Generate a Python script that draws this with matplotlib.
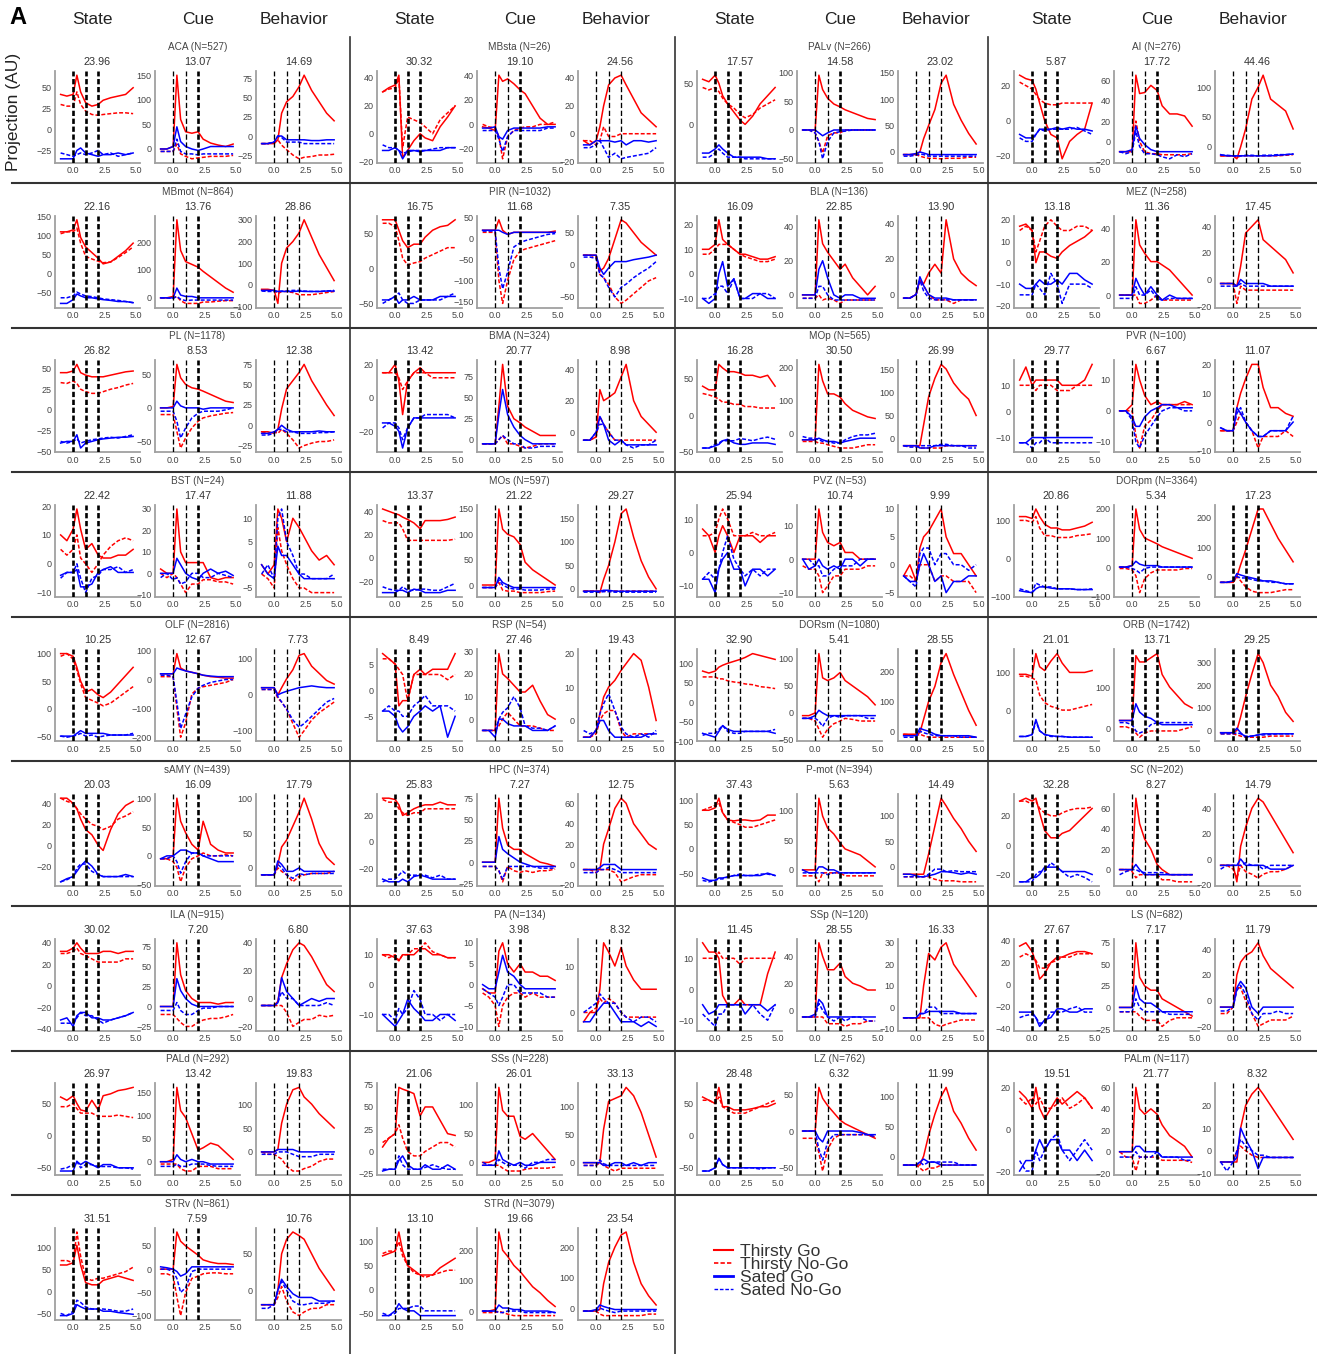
import matplotlib
matplotlib.use("Agg")
import matplotlib.pyplot as plt
from matplotlib.lines import Line2D
from matplotlib.ticker import MultipleLocator, FixedLocator

plt.rcParams['font.family'] = ['Liberation Sans', 'DejaVu Sans']

# time points (s) shared by every trace
T = [-1.0, -0.5, 0.0, 0.3, 0.6, 1.0, 1.5, 2.0, 2.4, 3.0, 3.6, 4.2, 4.8]

# each region: [State, Cue, Behavior]; each panel: [Thirsty Go, Thirsty No-Go, Sated Go, Sated No-Go]
R_ACA = [
    [[42, 40, 42, 65, 45, 32, 28, 30, 35, 38, 40, 42, 50], [30, 28, 28, 45, 30, 22, 18, 17, 18, 19, 20, 20, 19],
     [-35, -35, -35, -25, -22, -28, -30, -32, -30, -30, -28, -30, -28], [-28, -30, -32, -30, -28, -30, -28, -25, -30, -28, -32, -30, -28]],
    [[0, 0, 5, 150, 60, 35, 32, 35, 20, 12, 8, 5, 10], [-5, -5, -5, 10, -10, -15, -20, -18, -17, -15, -15, -15, -13],
     [0, 0, 5, 45, 15, 5, 0, -3, 0, 5, 5, 5, 5], [-5, -5, -5, 20, -5, -10, -10, -12, -10, -10, -10, -10, -10]],
    [[-10, -10, -10, -5, 30, 45, 52, 65, 80, 60, 45, 30, 20], [-10, -10, -8, -5, -12, -18, -25, -30, -28, -27, -25, -25, -24],
     [-10, -10, -8, 0, 0, -5, -5, -5, -5, -6, -6, -5, -5], [-10, -10, -8, 0, -2, -8, -8, -8, -10, -10, -10, -10, -10]],
]
R_MBmot = [
    [[110, 110, 115, 142, 95, 70, 55, 40, 25, 30, 45, 60, 80], [105, 110, 110, 120, 80, 45, 38, 32, 28, 30, 42, 55, 70],
     [-80, -80, -70, -55, -60, -65, -65, -68, -70, -72, -75, -75, -78], [-65, -65, -60, -50, -55, -60, -62, -65, -68, -70, -72, -75, -78]],
    [[0, 0, 5, 280, 170, 130, 120, 110, 95, 75, 55, 35, 20], [0, 0, 0, 5, -10, -20, -20, -20, -15, -15, -12, -10, -10],
     [0, 0, 0, 35, 10, 5, 5, 0, 0, 0, 0, 0, 0], [0, 0, -2, 5, -5, -10, -8, -8, -8, -8, -8, -8, -8]],
    [[-20, -20, -25, -85, 100, 170, 200, 240, 300, 220, 140, 80, 20], [-25, -25, -25, -40, -30, -30, -35, -45, -45, -45, -40, -35, -30],
     [-25, -25, -25, -30, -30, -30, -30, -28, -30, -30, -30, -28, -28], [-28, -30, -30, -30, -28, -28, -25, -25, -28, -30, -30, -28, -25]],
]
R_PL = [
    [[45, 45, 47, 55, 45, 42, 40, 40, 40, 42, 44, 46, 47], [33, 32, 35, 32, 25, 22, 20, 20, 22, 25, 27, 30, 32],
     [-40, -38, -38, -30, -46, -40, -38, -36, -35, -34, -33, -33, -32], [-38, -40, -38, -35, -40, -38, -36, -35, -34, -33, -34, -32, -30]],
    [[0, 0, 2, 65, 45, 35, 30, 28, 25, 20, 15, 10, 8], [-10, -10, -10, -35, -60, -45, -30, -20, -15, -12, -10, -8, -7],
     [0, 0, 0, 10, 3, 0, 0, 0, -2, 0, 0, 0, 0], [-5, -5, -5, -20, -45, -30, -15, -8, -5, -5, -5, -3, 0]],
    [[-8, -8, -10, -5, 20, 45, 55, 65, 75, 55, 40, 25, 12], [-8, -10, -8, -10, -5, -10, -18, -28, -25, -22, -20, -20, -18],
     [-10, -10, -8, -5, 0, -5, -8, -8, -8, -8, -7, -8, -8], [-12, -12, -10, -5, -5, -8, -8, -10, -10, -10, -9, -9, -8]],
]
R_BST = [
    [[10, 8, 12, 19, 12, 5, 7, 3, 2, 2, 3, 3, 5], [5, 3, 5, 10, 2, 0, -3, 0, 3, 6, 8, 9, 8],
     [-4, -3, -3, -2, -8, -8, -7, -3, -2, -1, -3, -3, -3], [-5, -3, -3, 0, -5, -10, -5, -4, -2, -2, -1, -3, -2]],
    [[2, 0, 0, 30, 10, 5, 5, 5, 5, -2, -3, -2, -2], [0, -2, 0, -2, -5, -9, -5, -5, -3, -3, -4, -4, -5],
     [0, 0, 0, 7, 4, 0, -2, -3, 0, 2, 0, 1, -1], [-2, 0, -3, -2, -5, -4, 0, 0, -2, -2, 0, -1, -2]],
    [[0, -2, 0, 12, 10, 5, 10, 8, 6, 3, 1, 2, 0], [-2, -3, -5, 8, 3, 0, -3, -5, -5, -6, -6, -6, -6],
     [0, -2, -3, 4, 2, 2, 0, -2, -3, -3, -3, -3, -3], [-2, 0, -3, 10, 12, 5, 2, -2, -2, -3, -3, -3, -2]],
]
R_OLF = [
    [[100, 100, 95, 75, 50, 30, 35, 25, 20, 30, 45, 60, 75], [95, 100, 90, 70, 45, 20, 15, 10, 5, 10, 20, 30, 40],
     [-50, -50, -50, -45, -40, -45, -45, -45, -45, -48, -48, -48, -48], [-50, -52, -50, -48, -45, -50, -48, -52, -50, -48, -48, -48, -45]],
    [[20, 20, 20, 90, 40, 30, 25, 20, 15, 10, 8, 5, 5], [10, 10, 10, -100, -200, -150, -50, -30, -25, -20, -15, -10, 0],
     [20, 20, 20, 40, 35, 30, 25, 20, 15, 12, 10, 10, 10], [15, 15, 10, -80, -170, -120, -60, -30, -20, -10, -5, 0, 0]],
    [[20, 20, 20, 0, 20, 45, 70, 110, 115, 80, 60, 40, 30], [15, 15, 15, -10, -20, -40, -80, -118, -100, -70, -50, -35, -20],
     [20, 20, 20, 0, 5, 10, 15, 20, 22, 25, 22, 20, 20], [15, 15, 15, -5, -20, -40, -70, -90, -80, -60, -40, -20, -10]],
]
R_sAMY = [
    [[45, 45, 40, 35, 25, 15, 10, 0, -5, 15, 30, 38, 42], [45, 42, 40, 35, 30, 25, 20, 18, 15, 18, 25, 28, 32],
     [-35, -32, -30, -25, -20, -15, -20, -28, -30, -30, -30, -28, -30], [-35, -33, -30, -22, -18, -18, -25, -28, -30, -30, -30, -30, -30]],
    [[-5, -5, 0, 100, 60, 40, 20, 10, 60, 20, 10, 5, 5], [-5, -5, -10, -20, -45, -20, -5, 0, 5, 0, 0, 2, 0],
     [-5, 0, 0, 5, 10, 10, 5, 5, 0, -5, -10, -10, -10], [-5, -5, 0, -10, -30, -10, 5, 5, 0, 0, 0, 0, 0]],
    [[-10, -10, -10, 5, 30, 40, 60, 80, 100, 70, 35, 15, 5], [-10, -10, -10, 0, -5, -10, -20, -12, -10, -8, -8, -8, -5],
     [-10, -10, -10, 10, 5, -5, -5, 0, -5, -5, -5, -5, -5], [-10, -10, -10, 5, 0, -10, -15, -8, -10, -8, -8, -8, -8]],
]
R_ILA = [
    [[32, 32, 35, 40, 35, 30, 30, 30, 32, 32, 30, 32, 32], [30, 30, 32, 35, 30, 28, 25, 22, 22, 22, 22, 25, 25],
     [-32, -30, -38, -28, -25, -25, -30, -30, -32, -32, -30, -28, -25], [-35, -35, -35, -30, -25, -28, -28, -32, -35, -32, -30, -28, -25]],
    [[0, 0, 0, 80, 40, 20, 10, 5, 5, 5, 3, 5, 5], [-10, -10, -10, -15, -20, -25, -25, -20, -17, -15, -15, -13, -10],
     [0, 0, 0, 35, 20, 10, 3, 0, 0, 0, 0, 0, 0], [-5, -5, -5, 5, -5, -10, -10, -5, -2, -2, 0, 0, 0]],
    [[-5, -5, -5, -2, 15, 25, 35, 40, 38, 30, 20, 10, 5], [-5, -5, -5, -5, -5, -10, -20, -17, -15, -15, -12, -13, -12],
     [-5, -5, -5, -3, 15, 5, 0, -5, -3, 0, -2, 0, 0], [-5, -5, -5, -3, 5, 0, 0, -5, -5, -5, -5, -3, -5]],
]
R_PALd = [
    [[60, 55, 62, 50, 40, 38, 55, 40, 62, 65, 70, 72, 75], [45, 45, 50, 42, 35, 35, 35, 30, 30, 30, 32, 30, 28],
     [-55, -55, -55, -40, -45, -40, -45, -50, -45, -45, -50, -50, -50], [-52, -50, -45, -40, -50, -45, -45, -48, -48, -48, -50, -50, -52]],
    [[0, 0, 5, 160, 110, 95, 60, 25, 30, 40, 35, 20, 5], [-5, -5, -5, -5, -15, -20, -20, -10, -10, -10, -15, -15, -15],
     [0, 0, 0, 15, 5, 0, 5, 0, 0, -5, -5, -5, -5], [-10, -10, -10, -5, -10, -10, -5, -5, -5, -8, -10, -10, -10]],
    [[0, 0, 0, 5, 60, 100, 130, 135, 115, 100, 80, 65, 50], [0, -5, -5, -10, -15, -30, -40, -40, -35, -30, -20, -15, -15],
     [0, 0, 0, 5, 5, 5, 5, 0, 0, 0, 0, 0, 0], [-5, -5, -5, 0, 0, 0, -5, -10, -10, -10, -5, -5, -5]],
]
R_STRv = [
    [[60, 60, 65, 105, 60, 20, 15, 15, 25, 30, 35, 30, 25], [70, 70, 65, 135, 80, 30, 25, 30, 30, 35, 40, 45, 55],
     [-55, -55, -50, -30, -35, -40, -40, -40, -45, -45, -48, -50, -52], [-50, -55, -45, -20, -25, -35, -40, -40, -40, -42, -45, -45, -40]],
    [[0, 0, 0, 80, 60, 50, 40, 30, 20, 15, 12, 12, 10], [-10, -10, -15, -60, -100, -50, -20, -15, -10, -8, -8, -10, -10],
     [5, 3, 0, -5, -15, -10, 5, 5, 5, 5, 5, 5, 5], [0, 0, -5, -20, -50, -40, -5, 0, 0, 0, 0, 0, 0]],
    [[-20, -20, -20, 0, 50, 70, 80, 75, 70, 50, 30, 15, 0], [-20, -20, -20, -10, 5, -15, -30, -35, -30, -25, -25, -20, -20],
     [-20, -20, -20, 0, 15, 5, -5, -10, -10, -10, -15, -15, -15], [-25, -25, -20, 0, 12, 0, -15, -20, -20, -18, -18, -18, -15]],
]
R_MBsta = [
    [[30, 33, 35, 42, -17, -12, -5, 0, -3, -5, 5, 12, 20], [30, 32, 33, 40, -10, 12, 10, 8, 5, 0, 10, 15, 20],
     [-12, -12, -10, -12, -18, -12, -12, -13, -12, -12, -12, -10, -10], [-8, -10, -10, -12, -14, -13, -12, -12, -12, -11, -10, -10, -10]],
    [[-2, -3, -5, 40, 35, 37, 33, 28, 25, 15, 5, 0, 0], [0, -2, -3, -10, -28, -10, -5, -3, -2, -2, 0, 0, 2],
     [-3, -3, -2, -10, -12, -5, -3, -3, -3, -3, -3, -2, -2], [-5, -5, -5, -12, -22, -10, -5, -5, -5, -5, -5, -3, -3]],
    [[-5, -8, -5, 5, 20, 35, 40, 42, 35, 25, 15, 10, 5], [-5, -5, -8, -5, 5, -2, -2, 0, 0, 0, 0, 0, 0],
     [-8, -8, -5, -5, -5, -5, -6, -5, -8, -5, -5, -6, -5], [-10, -10, -8, -5, -10, -17, -14, -18, -17, -16, -15, -14, -10]],
]
R_PIR = [
    [[70, 70, 70, 55, 40, 30, 35, 35, 45, 55, 60, 62, 70], [65, 65, 60, 40, 15, 5, 8, 10, 15, 20, 25, 30, 30],
     [-45, -45, -40, -50, -45, -45, -40, -45, -45, -45, -40, -40, -40], [-50, -45, -40, -35, -45, -50, -50, -45, -45, -45, -45, -40, -35]],
    [[20, 20, 20, 45, 20, 10, 15, 15, 15, 15, 15, 15, 18], [15, 15, 15, -100, -155, -100, -50, -30, -25, -20, -15, -10, -5],
     [20, 20, 20, 20, 15, 10, 15, 15, 15, 15, 15, 15, 15], [18, 18, 18, -70, -120, -80, -20, -10, -5, 0, 5, 10, 12]],
    [[15, 15, 15, -10, -5, 10, 40, 70, 65, 50, 35, 25, 15], [15, 15, 12, -15, -20, -30, -50, -60, -55, -45, -35, -25, -20],
     [15, 15, 15, -5, -15, -5, 5, 5, 5, 8, 10, 12, 15], [12, 12, 10, -15, -20, -35, -50, -35, -30, -20, -12, -5, 5]],
]
R_BMA = [
    [[15, 15, 20, 10, -10, 10, 15, 18, 15, 15, 15, 15, 15], [15, 15, 15, 12, 5, 10, 15, 15, 15, 12, 12, 12, 12],
     [-15, -15, -17, -20, -30, -18, -12, -12, -12, -12, -12, -12, -12], [-18, -15, -15, -18, -25, -18, -12, -12, -10, -10, -10, -10, -12]],
    [[-5, -5, -5, 40, 90, 40, 25, 20, 15, 10, 5, 5, 5], [-5, -5, -5, 0, 5, -5, -5, -8, -10, -8, -5, -5, -5],
     [-5, -5, -5, 30, 60, 30, 15, 5, 0, -5, -5, -5, -5], [-5, -5, -5, 0, 5, 0, -5, -5, -10, -10, -8, -8, -8]],
    [[-5, -5, -3, 27, 20, 22, 25, 35, 43, 20, 10, 5, 0], [-5, -5, -3, 10, 5, 0, -5, -5, -5, -5, -5, -5, -5],
     [-5, -5, 0, 10, 5, -5, -8, -5, -8, -8, -8, -8, -8], [-5, -5, 0, 5, 5, 0, -5, -5, -8, -10, -8, -8, -5]],
]
R_MOs = [
    [[42, 40, 38, 37, 35, 33, 30, 25, 32, 32, 32, 33, 35], [32, 30, 30, 30, 25, 15, 15, 15, 15, 15, 15, 15, 16],
     [-30, -30, -30, -28, -28, -30, -27, -28, -30, -30, -30, -28, -28], [-25, -27, -28, -28, -25, -28, -28, -27, -27, -28, -28, -25, -22]],
    [[0, 0, 0, 150, 110, 100, 95, 80, 45, 30, 20, 10, 0], [-5, -5, -5, 5, -10, -12, -12, -15, -15, -15, -15, -13, -12],
     [-5, -5, -5, 15, 5, 0, -5, -5, -5, -5, -5, -5, -5], [-5, -5, -5, 10, 0, -5, -8, -8, -10, -10, -10, -8, -8]],
    [[-5, -5, -5, -8, 20, 50, 100, 160, 170, 110, 60, 25, 0], [-5, -5, -5, -5, -5, -5, -5, -5, -5, -5, -5, -5, -5],
     [-5, -5, -5, -5, -3, -3, -5, -5, -5, -5, -5, -5, -5], [-7, -7, -7, -7, -6, -6, -7, -7, -7, -7, -7, -7, -7]],
]
R_RSP = [
    [[7, 6, 5, -3, -2, -2, 3, 4, 3, 4, 4, 4, 7], [6, 6, 5, 4, 3, -2, 3, 3, 3, 3, 3, 2, 3],
     [-4, -4, -5, -7, -8, -7, -5, -4, -3, -4, -3, -9, -5], [-4, -3, -4, -4, -5, -5, -3, -2, -1, -3, -3, -3, -4]],
    [[-5, -5, -5, 29, 20, 18, 15, 12, 12, 15, 8, 2, 0], [-5, -5, -5, -3, 0, 3, 0, -3, -3, -3, -4, -5, -5],
     [-5, -5, -8, 0, 0, -2, -3, -3, -3, -5, -5, -5, -3], [-5, -5, -5, 0, 3, 5, 10, 5, -3, -4, -4, -5, -3]],
    [[-5, -5, -3, 2, 7, 10, 12, 15, 17, 20, 18, 10, 0], [-5, -5, -4, 0, 2, 3, 3, -3, -5, -4, -4, -4, -4],
     [-5, -5, -3, 0, 0, -3, -5, -5, -5, -5, -5, -4, -4], [-3, -4, -3, 2, 5, 8, 3, -2, -4, -5, -4, -5, -3]],
]
R_HPC = [
    [[33, 33, 32, 28, 20, 22, 25, 27, 28, 28, 30, 28, 28], [32, 30, 30, 25, 22, 20, 22, 22, 25, 25, 25, 25, 25],
     [-28, -30, -30, -30, -28, -30, -26, -25, -26, -28, -28, -28, -28], [-30, -28, -28, -25, -22, -25, -25, -25, -25, -27, -25, -28, -28]],
    [[0, 0, 0, 75, 40, 20, 15, 15, 10, 5, 0, -2, -5], [-5, -5, -5, -10, -23, -5, -10, -12, -10, -12, -10, -10, -8],
     [0, 0, 0, 30, 15, 10, 5, 0, -2, -5, -5, -5, -5], [-5, -5, -5, -10, -20, -5, -5, -5, -5, -5, -7, -7, -7]],
    [[-5, -5, -5, -5, 20, 35, 55, 65, 60, 40, 30, 20, 15], [-5, -5, -8, -5, -5, -5, -8, -17, -15, -12, -10, -10, -10],
     [-5, -5, -5, -3, 0, 0, 0, -5, -5, -5, -5, -5, -5], [-8, -8, -8, -5, -5, -3, -5, -8, -8, -8, -8, -8, -8]],
]
R_PA = [
    [[10, 10, 9, 8, 10, 10, 10, 12, 12, 10, 10, 9, 9], [10, 9, 10, 8, 10, 10, 12, 12, 14, 11, 10, 9, 9],
     [-10, -12, -14, -12, -10, -5, -8, -10, -12, -12, -10, -10, -12], [-10, -10, -12, -8, -10, -8, -2, -5, -10, -10, -12, -10, -10]],
    [[-1, -2, -2, 8, 10, 5, 3, 5, 3, 3, 2, 2, 1], [-2, -3, -5, -10, -5, -3, -2, -2, -3, -2, -3, -3, -3],
     [0, -1, -1, 3, 7, 3, 2, 0, -1, -1, -1, -1, -1], [-1, -2, -3, -5, -3, 0, 0, -2, -2, -2, -2, -3, -3]],
    [[-2, 0, 0, 5, 15, 13, 10, 14, 10, 7, 5, 5, 5], [0, 0, 1, 3, 2, 3, 2, 0, -1, -1, -1, -1, -1],
     [-2, -2, 0, 1, 2, 2, 0, -2, -2, -2, -3, -2, -3], [0, 1, 2, 4, 3, 2, 2, 0, -1, -2, -1, -1, -2]],
]
R_SSs = [
    [[5, 15, 20, 72, 70, 68, 65, 40, 50, 50, 35, 20, 18], [10, 15, 20, 30, 15, 0, -5, -5, 0, 5, 10, 10, 5],
     [-22, -20, -20, -10, -5, -15, -20, -20, -15, -20, -20, -15, -20], [-20, -20, -20, -5, -15, -20, -20, -20, -18, -15, -18, -20, -20]],
    [[0, 0, 5, 130, 90, 80, 80, 45, 40, 50, 35, 20, 5], [-5, -5, -5, -5, -10, -15, -15, -15, -12, -10, -10, -10, -8],
     [-5, -5, -5, 20, 5, 0, -5, 0, -5, -5, 0, 0, 0], [0, -5, -5, 5, 0, -5, -5, -5, -10, 0, 0, 5, 5]],
    [[0, 0, 0, 0, 60, 110, 115, 120, 135, 120, 90, 50, 10], [-5, -5, -5, 0, -5, -10, -15, -10, -10, -10, -10, -10, -10],
     [0, 0, 0, 0, -5, -5, 0, 0, -5, 0, -5, 0, 0], [-5, -5, -5, 5, -2, -5, -5, -5, -5, -5, -5, -5, -5]],
]
R_STRd = [
    [[70, 75, 80, 120, 80, 50, 40, 30, 30, 30, 45, 55, 65], [75, 80, 80, 100, 70, 50, 35, 30, 25, 30, 35, 40, 40],
     [-55, -55, -45, -30, -40, -45, -45, -55, -55, -55, -55, -55, -55], [-50, -55, -50, -40, -40, -40, -35, -35, -45, -45, -45, -45, -45]],
    [[0, 0, 5, 260, 200, 180, 150, 130, 110, 80, 60, 35, 15], [-5, -5, -5, 0, -5, -10, -15, -15, -15, -15, -15, -15, -15],
     [0, 0, 0, 20, 10, 10, 5, 5, 0, 0, 0, 0, -5], [0, 0, 0, -5, -5, 0, 0, 0, -5, -5, -5, -5, -5]],
    [[-10, -10, -10, -5, 80, 150, 200, 240, 250, 150, 80, 40, 10], [-10, -10, -10, -20, -25, -25, -25, -25, -25, -25, -25, -20, -20],
     [-10, -10, -5, 10, 5, 0, -5, -5, -5, -5, -5, -5, -5], [-10, -10, -10, 0, -5, -10, -15, -10, -10, -10, -10, -10, -10]],
]
R_PALv = [
    [[55, 52, 60, 50, 35, 25, 15, 5, 0, 10, 25, 35, 45], [45, 42, 45, 40, 32, 25, 20, 12, 8, 12, 20, 25, 30],
     [-35, -35, -30, -25, -30, -35, -40, -40, -40, -40, -40, -42, -42], [-40, -40, -35, -30, -35, -40, -40, -40, -42, -42, -42, -42, -42]],
    [[0, 0, 0, 95, 70, 55, 45, 40, 35, 30, 25, 20, 18], [0, 0, -5, -20, -40, -10, -5, -5, 0, 0, 0, 0, 0],
     [0, 0, 0, -5, -10, -5, 0, 0, 0, 0, 0, 0, 0], [0, 0, -5, -20, -50, -20, -5, -3, -2, 0, 0, 0, 0]],
    [[-5, -5, -5, 0, 25, 50, 80, 130, 145, 90, 60, 35, 15], [-5, -5, -5, -8, -10, -12, -12, -13, -12, -12, -12, -10, -10],
     [-5, -5, -3, 0, -2, -5, -5, -5, -5, -5, -5, -5, -5], [-8, -8, -6, -4, -5, -8, -8, -8, -8, -8, -8, -8, -8]],
]
R_BLA = [
    [[10, 10, 12, 22, 14, 12, 10, 8, 8, 7, 6, 6, 7], [8, 8, 10, 12, 12, 12, 10, 8, 7, 6, 5, 5, 6],
     [-10, -12, -10, 0, 5, -5, -2, -10, -10, -8, -8, -10, -10], [-10, -10, -8, -5, -5, -8, -2, -10, -10, -10, -8, -8, -10]],
    [[0, 0, 0, 44, 30, 25, 20, 15, 18, 10, 5, 0, 5], [-2, -2, -2, 0, -3, -2, -3, -5, -3, -3, -3, -3, -3],
     [0, 0, 0, 15, 20, 10, 0, -2, 0, 0, -2, -2, -2], [-2, -2, -2, 5, 5, 0, -3, -3, -3, -3, -3, -3, -3]],
    [[-2, -2, 0, 8, 6, 12, 17, 12, 42, 20, 12, 8, 5], [-2, -2, 0, 8, 5, 0, -3, -3, -3, -5, -3, -3, -3],
     [-2, -2, 0, 10, 5, 0, -2, -2, -2, -3, -3, -3, -3], [-2, -2, 0, 8, 2, -2, -3, -3, -3, -3, -3, -3, -3]],
]
R_MOp = [
    [[40, 35, 35, 70, 65, 60, 60, 58, 55, 55, 52, 55, 40], [30, 28, 25, 22, 18, 18, 15, 15, 12, 12, 10, 10, 10],
     [-45, -45, -42, -40, -35, -33, -38, -40, -40, -38, -38, -38, -40], [-45, -45, -40, -38, -35, -35, -35, -32, -33, -35, -32, -30, -33]],
    [[-20, -20, -20, 210, 160, 120, 120, 110, 90, 70, 60, 50, 45], [-25, -25, -25, -30, -30, -35, -40, -45, -45, -45, -40, -35, -35],
     [-20, -20, -20, -15, -20, -25, -25, -30, -25, -20, -15, -15, -15], [-10, -15, -15, -20, -25, -25, -30, -30, -20, -10, -5, -5, 0]],
    [[-15, -15, -15, -15, 30, 90, 130, 160, 150, 120, 100, 85, 50], [-15, -15, -15, -20, -20, -20, -20, -20, -15, -15, -15, -15, -15],
     [-15, -15, -15, -20, -20, -20, -15, -15, -15, -15, -15, -15, -15], [-15, -18, -18, -15, -15, -15, -15, -12, -12, -15, -15, -20, -20]],
]
R_PVZ = [
    [[7, 5, 0, 5, 8, 5, 0, 5, 5, 5, 3, 5, 5], [5, 5, 6, 10, 13, 10, 5, 5, 5, 6, 5, 5, 6],
     [-8, -8, -12, -5, -2, 0, -5, -5, -10, -5, -5, -7, -5], [-8, -6, -8, -5, 0, 5, -2, -5, -7, -5, -7, -5, -5]],
    [[0, 0, 0, 15, 8, 5, 4, 5, 2, 2, 0, 0, 0], [-2, -3, -3, -5, -10, -8, -5, -5, -3, -3, -3, -2, -2],
     [0, -3, -2, 0, -2, -3, -2, -3, 0, 0, -2, 0, 0], [0, 0, -2, -2, -5, -5, -3, -2, -2, -2, 0, 0, 0]],
    [[-2, 0, -3, 3, 5, 6, 8, 10, 5, 2, 2, 0, -2], [-2, -2, -3, 0, 0, 0, -3, -2, -2, -3, -3, -3, -5],
     [-2, -3, -3, 0, 2, 0, -3, -2, -5, -3, -3, -2, -2], [-2, -3, -4, 2, 3, 3, 0, 2, 2, 0, 0, -1, 0]],
]
R_DORsm = [
    [[80, 75, 80, 90, 95, 100, 105, 110, 115, 125, 120, 115, 110], [65, 65, 65, 60, 60, 55, 52, 50, 47, 45, 40, 38, 35],
     [-80, -85, -90, -75, -60, -70, -75, -75, -75, -75, -75, -75, -80], [-85, -80, -80, -70, -60, -75, -80, -80, -75, -75, -75, -75, -70]],
    [[-5, -5, 0, 110, 65, 60, 65, 75, 60, 50, 40, 30, 15], [-10, -10, -15, -30, -45, -30, -20, -15, -10, -12, -15, -15, -15],
     [-10, -10, -5, 5, 0, -5, -5, -5, -5, -5, -5, -5, -5], [-10, -10, -10, -15, -25, -10, -5, -8, -5, -5, -5, -10, -10]],
    [[-10, -10, -10, -5, 40, 100, 150, 230, 260, 190, 130, 70, 20], [-10, -12, -15, -10, -15, -20, -20, -20, -20, -20, -20, -20, -20],
     [-15, -15, -15, 10, 5, 0, -10, -15, -15, -15, -15, -15, -20], [-20, -20, -20, 0, -5, -10, -15, -15, -15, -15, -20, -20, -20]],
]
R_Pmot = [
    [[80, 80, 85, 105, 75, 60, 58, 60, 60, 58, 60, 70, 70], [80, 85, 90, 95, 75, 60, 55, 50, 45, 45, 50, 55, 60],
     [-60, -65, -65, -60, -60, -58, -55, -55, -55, -55, -55, -50, -55], [-65, -68, -65, -62, -62, -58, -55, -52, -55, -55, -52, -52, -55]],
    [[0, 0, 0, 120, 90, 70, 60, 45, 35, 30, 25, 15, 5], [-10, -10, -10, -20, -5, -5, -5, -5, -10, -10, -10, -10, -10],
     [0, -5, -5, 5, 5, 0, 0, -5, -5, -5, -5, -5, -5], [-5, -5, -5, -5, -5, -8, -5, -5, -5, -5, -5, -5, -5]],
    [[-15, -15, -15, -15, -15, 25, 80, 135, 120, 95, 75, 50, 30], [-20, -20, -20, -20, -20, -20, -25, -28, -28, -28, -30, -30, -30],
     [-15, -15, -18, -20, -20, -18, -15, -10, -10, -12, -15, -12, -15], [-20, -20, -20, -20, -20, -15, -5, -5, -10, -8, -10, -10, -10]],
]
R_SSp = [
    [[15, 12, 12, 10, -2, -5, -5, -3, -5, -5, -5, 5, 12], [10, 10, 10, 12, 10, 10, 10, 8, 10, 10, 10, 10, 10],
     [-5, -8, -7, -5, -5, -5, -5, -5, -8, -5, -5, -7, -5], [-8, -10, -12, -8, -8, -5, -5, -5, -5, -5, -8, -10, -5]],
    [[-5, -5, -5, 50, 40, 30, 30, 35, 25, 20, 18, 15, 15], [-5, -5, -5, -5, -5, -10, -10, -10, -12, -10, -10, -8, -8],
     [-5, -5, -3, 8, 5, -5, -5, -5, -5, -5, -5, -5, -5], [-5, -5, -5, 5, 0, -5, -8, -5, -8, -5, -5, -8, -8]],
    [[-5, -5, -5, -5, 10, 25, 22, 28, 30, 20, 15, 10, 5], [-5, -5, -5, -5, -5, -5, -8, -9, -8, -7, -6, -6, -6],
     [-5, -5, -5, -3, -3, -2, -2, -2, -2, -2, -3, -3, -3], [-5, -5, -5, -3, -3, 0, 0, -3, -3, -3, -3, -3, -3]],
]
R_LZ = [
    [[60, 55, 50, 75, 45, 45, 40, 40, 40, 42, 45, 45, 50], [55, 55, 50, 60, 45, 40, 35, 35, 35, 40, 45, 50, 55],
     [-55, -55, -50, -35, -45, -50, -50, -50, -50, -50, -50, -50, -50], [-55, -55, -50, -35, -45, -50, -50, -50, -50, -50, -52, -50, -50]],
    [[0, 0, 0, 60, 45, 35, 25, 15, 10, 5, 0, -5, -10], [-10, -10, -10, -30, -55, -25, -10, -5, -5, -5, -5, -5, -8],
     [0, 0, 0, -10, -15, 0, 0, 0, 0, 0, -2, -5, -5], [0, 0, 0, -25, -40, -15, -5, -5, -5, -5, -5, -5, -8]],
    [[-15, -15, -15, -15, 0, 35, 70, 100, 115, 75, 55, 30, 10], [-15, -15, -15, -20, -25, -20, -20, -15, -15, -15, -15, -15, -15],
     [-15, -15, -15, -10, -5, -10, -10, -15, -15, -15, -15, -15, -15], [-15, -15, -15, -10, -15, -10, -10, -10, -10, -10, -15, -15, -15]],
]
R_AI = [
    [[26, 24, 23, 18, 10, 0, -8, -10, -22, -12, -8, -5, 10], [22, 20, 18, 15, 12, 10, 9, 9, 10, 10, 10, 10, 10],
     [-8, -10, -10, -8, -5, -5, -5, -4, -5, -4, -5, -5, -6], [-10, -12, -12, -8, -5, -6, -5, -5, -5, -5, -4, -6, -8]],
    [[-10, -10, -10, 65, 47, 48, 55, 50, 35, 27, 27, 25, 15], [-10, -10, -10, 20, 0, -10, -12, -12, -13, -13, -13, -13, -12],
     [-10, -10, -8, 15, 3, -3, -8, -10, -10, -10, -10, -10, -10], [-10, -12, -10, 10, -5, -12, -12, -13, -15, -17, -13, -15, -12]],
    [[-15, -15, -15, -20, 0, 30, 80, 100, 120, 80, 70, 60, 30], [-15, -15, -15, -18, -15, -15, -15, -15, -15, -15, -15, -14, -13],
     [-13, -15, -15, -15, -15, -15, -15, -15, -15, -15, -14, -13, -12], [-14, -14, -15, -16, -15, -14, -14, -15, -14, -14, -13, -13, -12]],
]
R_MEZ = [
    [[17, 18, 15, 0, 5, 5, 3, 2, 5, 8, 10, 12, 15], [15, 17, 15, 5, 10, 17, 20, 17, 15, 15, 17, 17, 15],
     [-10, -12, -12, -10, -8, -10, -10, -8, -10, -5, -5, -8, -10], [-15, -15, -15, -10, -12, -15, -5, -10, -19, -10, -10, -10, -12]],
    [[0, 0, 0, 45, 30, 25, 20, 20, 18, 15, 10, 5, 0], [0, 0, 0, 0, -5, -5, -3, 0, -3, -3, -3, -3, -3],
     [0, 0, 0, 10, 5, 0, 5, 0, -3, 0, -2, -2, -2], [-2, -2, -2, 5, 0, 0, 3, -2, -3, -2, -2, -2, -2]],
    [[-3, -3, -3, -5, 10, 35, 40, 45, 30, 25, 20, 15, 5], [-3, -3, -3, -18, -5, -8, -8, -8, -8, -8, -8, -8, -8],
     [-3, -3, -3, -5, 0, -3, -3, -3, -3, -5, -5, -5, -5], [-5, -5, -5, -5, -3, -5, -5, -5, -5, -5, -5, -5, -5]],
]
R_PVR = [
    [[12, 17, 10, 12, 12, 12, 12, 12, 10, 10, 10, 12, 18], [10, 10, 10, 8, 10, 10, 10, 8, 8, 8, 10, 10, 10],
     [-12, -12, -10, -10, -10, -10, -10, -10, -10, -10, -10, -10, -10], [-12, -12, -14, -12, -12, -10, -12, -12, -12, -12, -12, -12, -12]],
    [[0, 0, 2, 15, 10, 5, 2, 3, 2, 2, 2, 3, 2], [0, 0, 0, -8, -12, -5, -3, 0, 2, 2, 2, 2, 2],
     [0, 0, -2, -5, -5, -2, 0, 1, 2, 2, 1, 1, 1], [0, 0, -3, -10, -12, -8, -5, -2, 0, 1, 1, 0, 0]],
    [[-3, -3, -3, 5, 10, 15, 20, 20, 12, 5, 5, 3, 2], [-3, -3, -3, 0, 3, 0, -3, -9, -5, -5, -5, -3, -5],
     [-2, -3, -3, 5, 3, 0, -3, -5, -5, -3, -3, -3, 0], [-2, -3, -3, 3, 5, 0, -3, -5, -5, -3, -3, -3, 2]],
]
R_DORpm = [
    [[110, 110, 105, 130, 110, 90, 80, 80, 75, 75, 80, 85, 95], [100, 100, 95, 110, 80, 60, 60, 55, 55, 55, 60, 62, 65],
     [-85, -88, -90, -80, -75, -75, -78, -80, -80, -80, -82, -82, -82], [-80, -85, -90, -65, -70, -75, -75, -80, -80, -80, -82, -82, -80]],
    [[0, 0, 5, 200, 130, 100, 90, 80, 70, 60, 50, 40, 30], [-5, -5, -10, -30, -88, -40, -20, -10, -10, -10, -10, -5, -5],
     [0, 0, 5, 20, 10, 5, 5, 5, 0, 0, 0, 0, 0], [0, 0, -5, -10, -20, -5, 0, 0, 0, 0, 0, 0, 0]],
    [[-20, -20, -20, 0, 40, 90, 160, 230, 230, 180, 130, 90, 50], [-20, -20, -20, 0, -15, -35, -50, -55, -55, -55, -50, -45, -45],
     [-20, -20, -15, 10, 5, 0, -5, -10, -15, -15, -20, -25, -25], [-20, -20, -15, 0, -5, -5, -10, -15, -15, -20, -20, -25, -25]],
]
R_ORB = [
    [[95, 95, 90, 150, 115, 105, 130, 150, 125, 100, 100, 100, 105], [90, 90, 85, 80, 40, 20, 10, 5, 0, 0, 5, 10, 15],
     [-70, -70, -65, -25, -55, -65, -68, -70, -70, -72, -72, -72, -72], [-70, -70, -65, -30, -55, -65, -70, -70, -70, -72, -72, -72, -72]],
    [[20, 20, 20, 175, 160, 160, 170, 180, 130, 100, 80, 60, 50], [5, 5, 0, -10, -20, -10, -5, -5, -5, -5, -5, 0, 5],
     [20, 20, 20, 60, 40, 30, 25, 15, 10, 10, 10, 10, 10], [15, 15, 10, -5, -10, -5, 10, 15, 15, 15, 15, 15, 15]],
    [[-10, -10, -10, 0, 60, 150, 250, 340, 300, 200, 150, 80, 40], [-15, -15, -15, -20, -25, -30, -30, -30, -30, -25, -25, -25, -25],
     [-10, -10, -10, 10, -10, -30, -25, -20, -15, -15, -15, -15, -15], [-15, -15, -15, -10, -15, -25, -25, -20, -20, -18, -15, -15, -15]],
]
R_SC = [
    [[30, 32, 30, 32, 22, 10, 5, 5, 8, 10, 15, 20, 25], [30, 30, 28, 30, 25, 22, 20, 20, 22, 24, 25, 25, 26],
     [-25, -25, -22, -22, -20, -15, -15, -15, -18, -18, -18, -18, -20], [-25, -25, -25, -20, -18, -18, -12, -15, -18, -22, -20, -22, -25]],
    [[0, 0, 0, 70, 45, 30, 20, 5, 0, -5, -5, -5, -5], [0, 0, -2, -8, -5, -5, -5, -5, -10, -10, -12, -12, -12],
     [0, 0, 0, 5, 0, -5, -5, -5, -5, -5, -5, -5, -5], [-5, -2, 0, 0, -2, -3, -3, -3, -3, -5, -5, -5, -5]],
    [[-5, -5, -5, -18, 10, 25, 40, 48, 45, 35, 25, 15, 5], [-5, -5, -8, -15, -5, -10, -12, -15, -12, -10, -10, -8, -5],
     [-5, -5, -5, -5, 0, -5, -5, -5, -5, -8, -8, -8, -5], [-8, -5, -5, -5, -5, -3, -5, -5, -8, -5, -5, -5, -5]],
]
R_LS = [
    [[35, 38, 30, 20, 5, 10, 20, 25, 25, 28, 30, 30, 28], [25, 28, 25, 22, 15, 15, 20, 22, 25, 25, 28, 28, 28],
     [-25, -25, -25, -30, -38, -32, -30, -22, -22, -25, -25, -22, -22], [-30, -28, -27, -30, -35, -35, -25, -25, -25, -22, -20, -25, -25]],
    [[0, 0, 0, 75, 35, 25, 20, 20, 10, 5, 0, -5, -10], [-5, -5, -5, -5, -10, -15, -15, -15, -22, -15, -12, -12, -12],
     [0, 0, 0, 25, 10, 5, 5, 0, -5, -5, -5, -5, -5], [-5, -5, -5, 10, 0, -5, -5, -5, -5, -8, -8, -8, -8]],
    [[-5, -5, -5, 20, 30, 35, 38, 45, 35, 25, 20, 15, 10], [-10, -10, -5, 10, 10, 0, -10, -20, -18, -15, -15, -15, -12],
     [-5, -5, -5, 10, 15, 10, -5, -10, -5, -5, -5, -5, -5], [-8, -8, -5, 8, 12, 5, -10, -15, -10, -10, -8, -10, -10]],
]
R_PALm = [
    [[18, 15, 10, 20, 10, 5, 10, 15, 12, 15, 18, 15, 10], [15, 12, 15, 12, 15, 10, 10, 12, 15, 10, 12, 15, 10],
     [-20, -15, -15, -10, -5, -10, -5, -5, -10, -10, -15, -10, -15], [-15, -20, -20, -10, -15, -10, -5, -2, -10, -15, -10, -5, -10]],
    [[0, 0, 0, 60, 40, 35, 40, 35, 25, 15, 10, 5, -5], [0, -5, -5, -18, -5, -5, -5, -5, -8, -8, -8, -8, -10],
     [0, 0, 0, 5, 5, 0, 0, 0, -5, -5, -5, -5, -5], [-5, -5, -5, 0, -5, -5, -5, 0, -5, -5, -5, -8, -8]],
    [[-5, -5, -5, -5, 10, 20, 25, 28, 25, 20, 15, 10, 5], [-5, -5, -5, 0, 2, 0, -2, -3, -3, -3, -3, -3, -3],
     [-5, -5, -5, -3, 10, 5, 0, -8, -3, -3, -3, -3, -3], [-5, -9, -5, 0, 5, 2, 0, -2, -2, -3, -3, -3, -3]],
]

# layout columns: region names, unit counts, per-panel numbers, traces, y tick steps
COL1_NAMES = ["ACA", "MBmot", "PL", "BST", "OLF", "sAMY", "ILA", "PALd", "STRv"]
COL1_N = [527, 864, 1178, 24, 2816, 439, 915, 292, 861]
COL1_SCORES = [[23.96, 13.07, 14.69], [22.16, 13.76, 28.86], [26.82, 8.53, 12.38], [22.42, 17.47, 11.88],
               [10.25, 12.67, 7.73], [20.03, 16.09, 17.79], [30.02, 7.20, 6.80], [26.97, 13.42, 19.83],
               [31.51, 7.59, 10.76]]
COL1_DATA = [R_ACA, R_MBmot, R_PL, R_BST, R_OLF, R_sAMY, R_ILA, R_PALd, R_STRv]
COL1_YSTEP = [[25, 50, 25], [50, 100, 100], [25, 50, 25], [10, 10, 5], [50, 100, 100],
              [20, 50, 50], [20, 25, 20], [50, 50, 50], [50, 50, 50]]

COL2_NAMES = ["MBsta", "PIR", "BMA", "MOs", "RSP", "HPC", "PA", "SSs", "STRd"]
COL2_N = [26, 1032, 324, 597, 54, 374, 134, 228, 3079]
COL2_SCORES = [[30.32, 19.10, 24.56], [16.75, 11.68, 7.35], [13.42, 20.77, 8.98], [13.37, 21.22, 29.27],
               [8.49, 27.46, 19.43], [25.83, 7.27, 12.75], [37.63, 3.98, 8.32], [21.06, 26.01, 33.13],
               [13.10, 19.66, 23.54]]
COL2_DATA = [R_MBsta, R_PIR, R_BMA, R_MOs, R_RSP, R_HPC, R_PA, R_SSs, R_STRd]
COL2_YSTEP = [[20, 20, 20], [50, 50, 50], [20, 25, 20], [20, 50, 50], [5, 10, 10],
              [20, 25, 20], [10, 5, 10], [25, 50, 50], [50, 100, 100]]

COL3_NAMES = ["PALv", "BLA", "MOp", "PVZ", "DORsm", "P-mot", "SSp", "LZ"]
COL3_N = [266, 136, 565, 53, 1080, 394, 120, 762]
COL3_SCORES = [[17.57, 14.58, 23.02], [16.09, 22.85, 13.90], [16.28, 30.50, 26.99], [25.94, 10.74, 9.99],
               [32.90, 5.41, 28.55], [37.43, 5.63, 14.49], [11.45, 28.55, 16.33], [28.48, 6.32, 11.99]]
COL3_DATA = [R_PALv, R_BLA, R_MOp, R_PVZ, R_DORsm, R_Pmot, R_SSp, R_LZ]
COL3_YSTEP = [[50, 50, 50], [10, 20, 20], [50, 100, 50], [10, 10, 5], [50, 50, 100],
              [50, 50, 50], [10, 20, 10], [50, 50, 50]]

COL4_NAMES = ["AI", "MEZ", "PVR", "DORpm", "ORB", "SC", "LS", "PALm"]
COL4_N = [276, 258, 100, 3364, 1742, 202, 682, 117]
COL4_SCORES = [[5.87, 17.72, 44.46], [13.18, 11.36, 17.45], [29.77, 6.67, 11.07], [20.86, 5.34, 17.23],
               [21.01, 13.71, 29.25], [32.28, 8.27, 14.79], [27.67, 7.17, 11.79], [19.51, 21.77, 8.32]]
COL4_DATA = [R_AI, R_MEZ, R_PVR, R_DORpm, R_ORB, R_SC, R_LS, R_PALm]
COL4_YSTEP = [[20, 20, 50], [10, 20, 20], [10, 10, 10], [100, 100, 100], [100, 100, 100],
              [20, 20, 20], [20, 25, 20], [20, 20, 10]]

PANELS = ["State", "Cue", "Behavior"]
LEGEND = ["Thirsty Go", "Thirsty No-Go", "Sated Go", "Sated No-Go"]
EVENTS = [0, 1, 2]

# styles
COLORS = ["#ff0000", "#ff0000", "#0000ff", "#0000ff"]
STYLES = ["-", (0, (2.6, 1.3)), "-", (0, (2.6, 1.3))]
VL_DEFAULT = [[2, 2, 2], [1, 1, 2], [1, 1, 1]]
VL_SPECIAL = {
    "DORsm": [[1, 1, 1], [1, 1, 1], [2, 2, 2]],
    "DORpm": [[1, 1, 1], [1, 1, 1], [2, 2, 2]],
    "ORB": [[1, 1, 1], [2, 2, 2], [2, 2, 2]],
    "STRd": [[1, 2, 1], [1, 1, 1], [1, 1, 1]],
    "SSs": [[1, 2, 1], [1, 1, 1], [1, 1, 1]],
}

W, H = 1317, 1354
fig = plt.figure(figsize=(W / 100, H / 100), dpi=100)

BLOCK_X = [0, 322, 642, 959]
PANEL_X = [55, 155, 256]
PANEL_W = 85
ROW_PITCH = 144.6
TITLE_Y0 = 47


def fx(x):
    return x / W


def fy(y):
    return 1 - y / H


def draw_panel(ax, lines, vwidths, ystep):
    for y, c, ls in zip(lines, COLORS, STYLES):
        ax.plot(T, y, color=c, ls=ls, lw=1.1)
    for ev, w in zip(EVENTS, vwidths):
        ax.axvline(ev, color="black", lw=w * 0.95, ls=(0, (4.0 / w, 2.0 / w)), zorder=3)
    ax.set_xlim(-1.45, 5.35)
    ax.xaxis.set_major_locator(FixedLocator([0, 2.5, 5]))
    ax.set_xticklabels(["0.0", "2.5", "5.0"])
    ax.yaxis.set_major_locator(MultipleLocator(ystep))
    for s in ["top", "right"]:
        ax.spines[s].set_visible(False)
    for s in ["left", "bottom"]:
        ax.spines[s].set_color("#a0a0a0")
        ax.spines[s].set_linewidth(1.3)
    ax.tick_params(length=0, labelsize=6.5, colors="#444444", pad=2.5)
    ax.set_facecolor("white")


columns = [
    (COL1_NAMES, COL1_N, COL1_SCORES, COL1_DATA, COL1_YSTEP),
    (COL2_NAMES, COL2_N, COL2_SCORES, COL2_DATA, COL2_YSTEP),
    (COL3_NAMES, COL3_N, COL3_SCORES, COL3_DATA, COL3_YSTEP),
    (COL4_NAMES, COL4_N, COL4_SCORES, COL4_DATA, COL4_YSTEP),
]

for bi, (names, counts, scores, datas, steps) in enumerate(columns):
    bx = BLOCK_X[bi]
    for ri, (name, n, sc, data, st) in enumerate(zip(names, counts, scores, datas, steps)):
        ty = TITLE_Y0 + ROW_PITCH * ri
        top = ty + 24
        bottom = ty + 116
        vl = VL_SPECIAL.get(name, VL_DEFAULT)
        fig.text(fx(bx + PANEL_X[1] + PANEL_W / 2), fy(ty), f"{name} (N={n})",
                 ha="center", va="center", fontsize=7.2, color="#444444")
        for pi in range(3):
            x0 = bx + PANEL_X[pi]
            ax = fig.add_axes([fx(x0), fy(bottom), PANEL_W / W, (bottom - top) / H])
            draw_panel(ax, data[pi], vl[pi], st[pi])
            fig.text(fx(x0 + PANEL_W / 2), fy(ty + 15), f"{sc[pi]:.2f}",
                     ha="center", va="center", fontsize=7.8, color="#333333")

# column headers
for bx in BLOCK_X:
    for px, lab in zip([92, 198, 294], PANELS):
        fig.text(fx(bx + px), fy(20), lab, ha="center", va="center", fontsize=12.5, color="#222222")

fig.text(fx(18), fy(18), "A", ha="center", va="center", fontsize=17, fontweight="bold", color="black")
fig.text(fx(14), fy(112), "Projection (AU)", ha="center", va="center", rotation=90,
         fontsize=12.5, color="#222222")

# separators
sep_color = "#333333"
for i in range(8):
    y = 183 + ROW_PITCH * i
    fig.add_artist(Line2D([fx(12), fx(W)], [fy(y), fy(y)], color=sep_color, lw=1.5))
fig.add_artist(Line2D([fx(350), fx(350)], [fy(37), fy(H)], color=sep_color, lw=1.2))
fig.add_artist(Line2D([fx(675), fx(675)], [fy(37), fy(H)], color=sep_color, lw=1.2))
fig.add_artist(Line2D([fx(988), fx(988)], [fy(37), fy(183 + ROW_PITCH * 7)], color=sep_color, lw=1.2))

# legend
handles = [Line2D([], [], color=c, ls=s, lw=w) for c, s, w in zip(COLORS, STYLES, [1.5, 1.2, 2.0, 1.0])]
leg = fig.legend(handles, LEGEND, loc="center left", bbox_to_anchor=(fx(705), fy(1271)), frameon=False,
                 fontsize=12.5, labelspacing=-0.13, handlelength=1.1, handletextpad=0.4, borderpad=0)
for t in leg.get_texts():
    t.set_color("#333333")

fig.savefig("out.png", dpi=100, facecolor="white")
